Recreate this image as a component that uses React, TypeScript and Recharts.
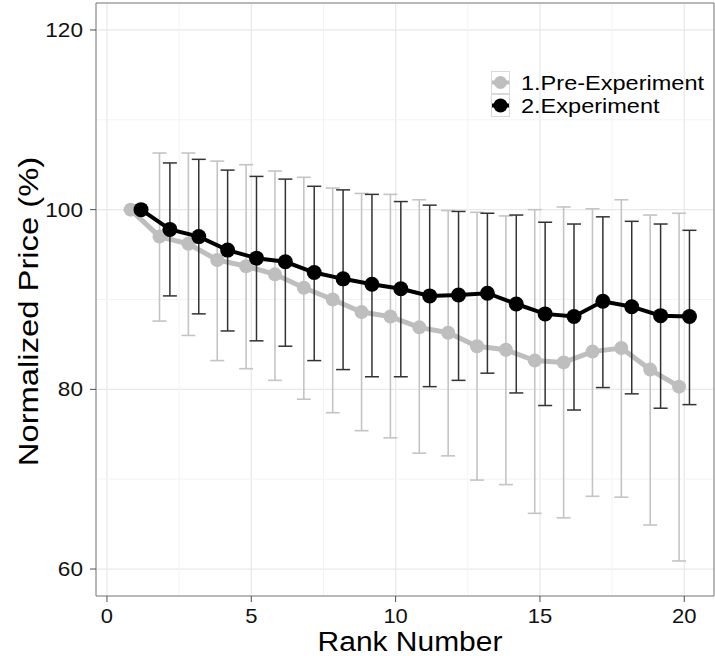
import React from 'react';
import {
    ComposedChart,
    Line,
    ErrorBar,
    XAxis,
    YAxis,
    CartesianGrid,
    ReferenceLine
} from 'recharts';

const ranks = [1, 2, 3, 4, 5, 6, 7, 8, 9, 10, 11, 12, 13, 14, 15, 16, 17, 18, 19, 20];

// 1.Pre-Experiment
const preMean = [100, 97.0, 96.2, 94.4, 93.7, 92.8, 91.3, 90.0, 88.6, 88.1, 86.9, 86.3, 84.8, 84.4, 83.2, 83.0, 84.2, 84.6, 82.2, 80.3];
const preUpper = [100, 106.3, 106.3, 105.4, 105.0, 104.3, 103.6, 102.4, 101.8, 101.7, 101.1, 99.9, 99.7, 99.3, 100.0, 100.3, 100.1, 101.1, 99.4, 99.6];
const preLower = [100, 87.6, 86.0, 83.2, 82.3, 81.0, 78.9, 77.4, 75.4, 74.6, 72.9, 72.6, 69.9, 69.4, 66.2, 65.7, 68.1, 68.0, 64.9, 60.9];

// 2.Experiment
const expMean = [100, 97.8, 97.0, 95.5, 94.6, 94.2, 93.0, 92.3, 91.7, 91.2, 90.4, 90.5, 90.7, 89.5, 88.4, 88.1, 89.8, 89.2, 88.2, 88.1];
const expUpper = [100, 105.2, 105.6, 104.4, 103.7, 103.4, 102.6, 102.2, 101.7, 100.9, 100.5, 99.8, 99.6, 99.4, 98.6, 98.4, 99.2, 98.7, 98.4, 97.7];
const expLower = [100, 90.4, 88.4, 86.5, 85.4, 84.8, 83.2, 82.2, 81.4, 81.4, 80.3, 81.0, 81.8, 79.6, 78.2, 77.7, 80.2, 79.5, 77.9, 78.3];

const xTicks = [0, 5, 10, 15, 20];
const yTicks = [60, 80, 100, 120];
const xMinor = [2.5, 7.5, 12.5, 17.5];
const yMinor = [70, 90, 110];

const DODGE = 0.18;
const FONT = "'Liberation Sans', Arial, Helvetica, sans-serif";
const GREY = '#bebebe';
const TEXT = '#111';

const build = (mean: number[], upper: number[], lower: number[], shift: number) =>
    ranks.map((r, i) => ({
        x: r + shift,
        y: mean[i],
        err: [Math.max(0, mean[i] - lower[i]), Math.max(0, upper[i] - mean[i])]
    }));

const preData = build(preMean, preUpper, preLower, -DODGE);
const expData = build(expMean, expUpper, expLower, DODGE);

// the reference text is a bit wider than plain Arial, so stretch it
const XTick = (props: any) => {
    const { x, y, payload } = props;
    return (
        <text
            transform={`translate(${x},${y}) scale(1.1,1)`}
            textAnchor="middle"
            dy="0.71em"
            fill={TEXT}
            fontSize={20}
            fontFamily={FONT}
        >
            {payload.value}
        </text>
    );
};

const YTick = (props: any) => {
    const { x, y, payload } = props;
    return (
        <text
            transform={`translate(${x},${y}) scale(1.13,1)`}
            textAnchor="end"
            dy="0.355em"
            fill={TEXT}
            fontSize={20}
            fontFamily={FONT}
        >
            {payload.value}
        </text>
    );
};

const XTitle = (props: any) => {
    const { viewBox } = props;
    const cx = viewBox.x + viewBox.width / 2 + 5;
    const cy = viewBox.y + viewBox.height - 5;
    return (
        <text
            transform={`translate(${cx},${cy}) scale(1.07,1)`}
            textAnchor="middle"
            fill="#000"
            fontSize={28}
            fontFamily={FONT}
        >
            Rank Number
        </text>
    );
};

const YTitle = (props: any) => {
    const { viewBox } = props;
    const cx = viewBox.x + 38;
    const cy = viewBox.y + viewBox.height / 2 + 12;
    return (
        <text
            transform={`translate(${cx},${cy}) rotate(-90) scale(1.17,1)`}
            textAnchor="middle"
            fill="#000"
            fontSize={28}
            fontFamily={FONT}
        >
            Normalized Price (%)
        </text>
    );
};

const LegendKey = ({ color, r }: { color: string; r: number }) => (
    <svg width={19} height={23} style={{ display: 'block' }}>
        <rect x={0.5} y={0.5} width={18} height={22} fill="#fff" stroke="#d9d9d9" />
        <line x1={1} x2={18} y1={11.5} y2={11.5} stroke={color} strokeWidth={4} />
        <circle cx={9.5} cy={11.5} r={r} fill={color} />
    </svg>
);

export default function App() {
    return (
        <div style={{ position: 'absolute', left: 0, top: 0, width: 715, height: 656, background: '#fff' }}>
            <ComposedChart
                width={715}
                height={656}
                margin={{ top: 3, right: 1, bottom: 0, left: 0 }}
            >
                <CartesianGrid stroke="#e8e8e8" strokeWidth={1.2} />
                {xMinor.map(v => (
                    <ReferenceLine key={`vx-${v}`} x={v} stroke="#f3f3f3" strokeWidth={1} />
                ))}
                {yMinor.map(v => (
                    <ReferenceLine key={`hy-${v}`} y={v} stroke="#f3f3f3" strokeWidth={1} />
                ))}
                <XAxis
                    type="number"
                    dataKey="x"
                    domain={[-0.38, 21.03]}
                    ticks={xTicks}
                    allowDataOverflow
                    height={60}
                    stroke="#7f7f7f"
                    tickSize={6}
                    tickMargin={7}
                    tickLine={{ stroke: '#4d4d4d' }}
                    tick={<XTick />}
                    label={<XTitle />}
                />
                <YAxis
                    type="number"
                    domain={[57, 123]}
                    ticks={yTicks}
                    allowDataOverflow
                    width={96}
                    stroke="#7f7f7f"
                    tickSize={6}
                    tickMargin={7}
                    tickLine={{ stroke: '#4d4d4d' }}
                    tick={<YTick />}
                    label={<YTitle />}
                />
                <ReferenceLine y={123} stroke="#7f7f7f" strokeWidth={1} />
                <ReferenceLine x={21.03} stroke="#7f7f7f" strokeWidth={1} />
                <Line
                    data={preData}
                    dataKey="y"
                    name="1.Pre-Experiment"
                    stroke={GREY}
                    strokeWidth={5}
                    dot={{ r: 7, fill: GREY, stroke: GREY, strokeWidth: 0 }}
                    activeDot={false}
                    isAnimationActive={false}
                >
                    <ErrorBar dataKey="err" direction="y" width={7} stroke="#c4c4c4" strokeWidth={1.6} />
                </Line>
                <Line
                    data={expData}
                    dataKey="y"
                    name="2.Experiment"
                    stroke="#000"
                    strokeWidth={4}
                    dot={{ r: 7.5, fill: '#000', stroke: '#000', strokeWidth: 0 }}
                    activeDot={false}
                    isAnimationActive={false}
                >
                    <ErrorBar dataKey="err" direction="y" width={7} stroke="#333" strokeWidth={1.5} />
                </Line>
            </ComposedChart>
            <div
                style={{
                    position: 'absolute',
                    left: 491,
                    top: 71,
                    fontFamily: FONT,
                    fontSize: 21,
                    color: '#000'
                }}
            >
                {[
                    { label: '1.Pre-Experiment', color: GREY, r: 6.5 },
                    { label: '2.Experiment', color: '#000', r: 7 }
                ].map(item => (
                    <div key={item.label} style={{ display: 'flex', alignItems: 'center', height: 23 }}>
                        <LegendKey color={item.color} r={item.r} />
                        <span
                            style={{
                                marginLeft: 11,
                                lineHeight: '23px',
                                display: 'inline-block',
                                transform: 'scaleX(1.12)',
                                transformOrigin: 'left center',
                                whiteSpace: 'nowrap'
                            }}
                        >
                            {item.label}
                        </span>
                    </div>
                ))}
            </div>
        </div>
    );
}
